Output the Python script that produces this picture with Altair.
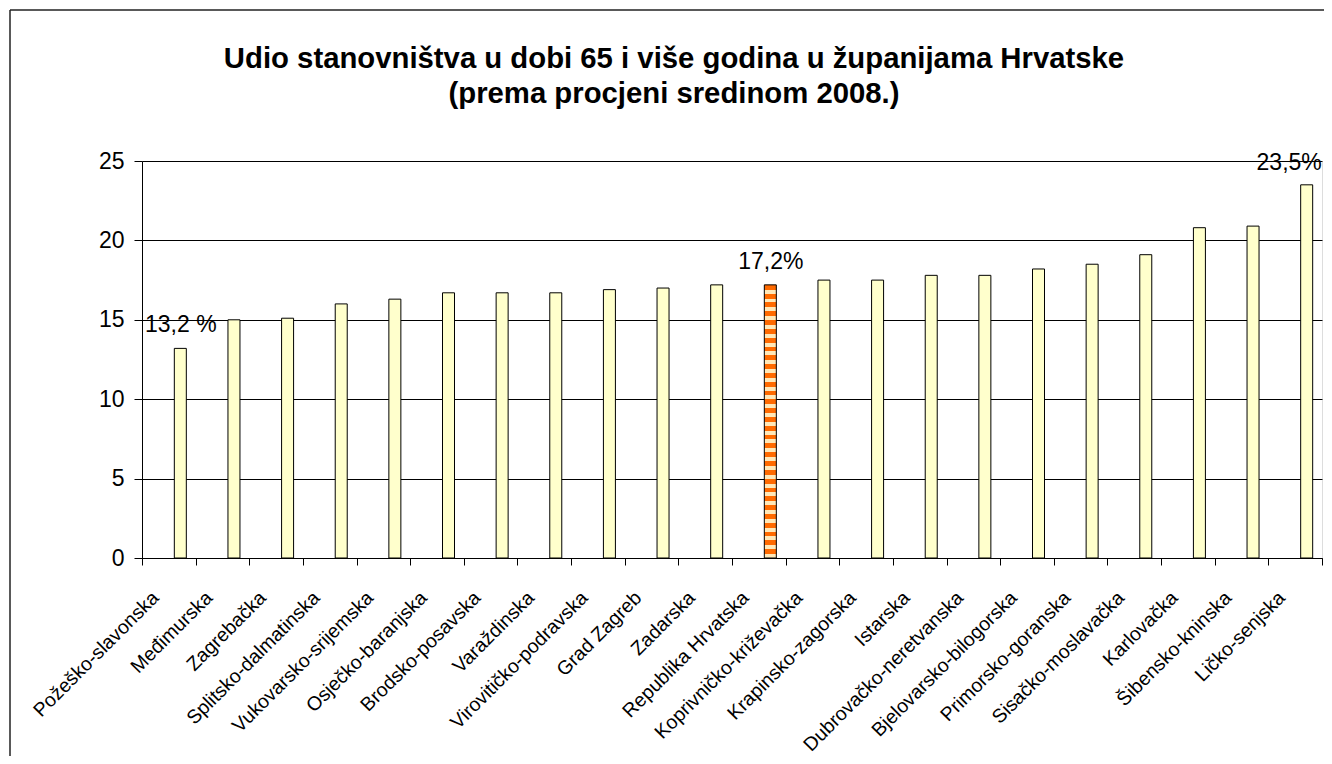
import altair as alt
import pandas as pd

categories = [
    "Požeško-slavonska", "Međimurska", "Zagrebačka", "Splitsko-dalmatinska",
    "Vukovarsko-srijemska", "Osječko-baranjska", "Brodsko-posavska", "Varaždinska",
    "Virovitičko-podravska", "Grad Zagreb", "Zadarska", "Republika Hrvatska",
    "Koprivničko-križevačka", "Krapinsko-zagorska", "Istarska", "Dubrovačko-neretvanska",
    "Bjelovarsko-bilogorska", "Primorsko-goranska", "Sisačko-moslavačka", "Karlovačka",
    "Šibensko-kninska", "Ličko-senjska",
]
values = [13.2, 15.0, 15.1, 16.0, 16.3, 16.7, 16.7, 16.7, 16.9, 17.0, 17.2, 17.2,
          17.5, 17.5, 17.8, 17.8, 18.2, 18.5, 19.1, 20.8, 20.9, 23.5]
labels = ["13,2 %", "", "", "", "", "", "", "", "", "", "", "17,2%",
          "", "", "", "", "", "", "", "", "", "23,5%"]
highlight = "Republika Hrvatska"
title_lines = ["Udio stanovništva u dobi 65 i više godina u županijama Hrvatske",
               "(prema procjeni sredinom 2008.)"]

df = pd.DataFrame({"kat": categories, "val": values, "lab": labels})

FONT = "Liberation Sans"
W, H = 1180, 397
PAD_B = 198

# patterned fill for the highlighted bar (alternating orange / cream bands)
n_per = 31
stops = []
for i in range(n_per):
    a = i / n_per
    m = (i + 0.55) / n_per
    b = (i + 1) / n_per
    stops += [{"offset": a, "color": "#FF6A00"}, {"offset": m, "color": "#FF6A00"},
              {"offset": m, "color": "#FFE8B8"}, {"offset": b, "color": "#FFE8B8"}]
pattern = {"gradient": "linear", "x1": 0, "y1": 0, "x2": 0, "y2": 1, "stops": stops}

x_enc = alt.X("kat:N", sort=categories, title=None,
              scale=alt.Scale(paddingInner=0, paddingOuter=0),
              axis=alt.Axis(labelAngle=-45, labelAlign="right", labelBaseline="top",
                            labelOffset=-20, labelPadding=23, labelFontSize=19.5,
                            labelFont=FONT, labelColor="black", tickBand="extent",
                            tickSize=7, tickColor="black", domainColor="black",
                            grid=False, labelOverlap=False, labelLimit=0))
y_enc = alt.Y("val:Q", title=None,
              scale=alt.Scale(domain=[0, 25], nice=False),
              axis=alt.Axis(values=[0, 5, 10, 15, 20, 25], labelFontSize=23,
                            labelFont=FONT, labelColor="black", tickSize=8,
                            tickColor="black", domainColor="black", labelPadding=10,
                            grid=True, gridColor="black", gridWidth=1))

base = alt.Chart(df)

bars = base.transform_filter(alt.datum.kat != highlight).mark_bar(
    width=12, xOffset=11.5, fill="#FFFFCC", stroke="black", strokeWidth=1
).encode(x=x_enc, y=y_enc)

hbar = base.transform_filter(alt.datum.kat == highlight).mark_bar(
    width=12, xOffset=11.5, fill=pattern, stroke="black", strokeWidth=1
).encode(x=x_enc, y=y_enc)

txt = base.transform_filter(
    (alt.datum.lab != "") & (alt.datum.kat != "Ličko-senjska")
).mark_text(xOffset=12, dy=-23, fontSize=23, font=FONT, color="black",
            baseline="middle").encode(x=x_enc, y=y_enc, text="lab:N")

txt_last = base.transform_filter(alt.datum.kat == "Ličko-senjska").mark_text(
    xOffset=-6, dy=-22, fontSize=23, font=FONT, color="black", baseline="middle"
).encode(x=x_enc, y=y_enc, text="lab:N")

one = alt.Data(values=[{"a": 1}])
title_mark = alt.Chart(one).mark_text(
    font=FONT, fontSize=29.3, fontWeight="bold", color="black", align="center",
    baseline="alphabetic", lineHeight=35
).encode(x=alt.value(W / 2 - 58), y=alt.value(-93), text=alt.value(title_lines))

left_border = alt.Chart(one).mark_rule(color="#222222", strokeWidth=1.5).encode(
    x=alt.value(-132), y=alt.value(-151), y2=alt.value(H + PAD_B))
top_border = alt.Chart(one).mark_rule(color="#222222", strokeWidth=1.5).encode(
    x=alt.value(-132), x2=alt.value(W + 2), y=alt.value(-151))

chart = alt.layer(bars, hbar, txt, txt_last, title_mark, left_border, top_border).properties(
    width=W, height=H,
    autosize=alt.AutoSizeParams(type="none"),
    padding={"left": 134, "top": 153, "right": 2, "bottom": PAD_B},
).configure_view(fill="#C0C0C0", stroke="#808080", strokeWidth=1
).configure(background="white")

chart.save("out.html", embed_options={"renderer": "svg", "actions": False})
